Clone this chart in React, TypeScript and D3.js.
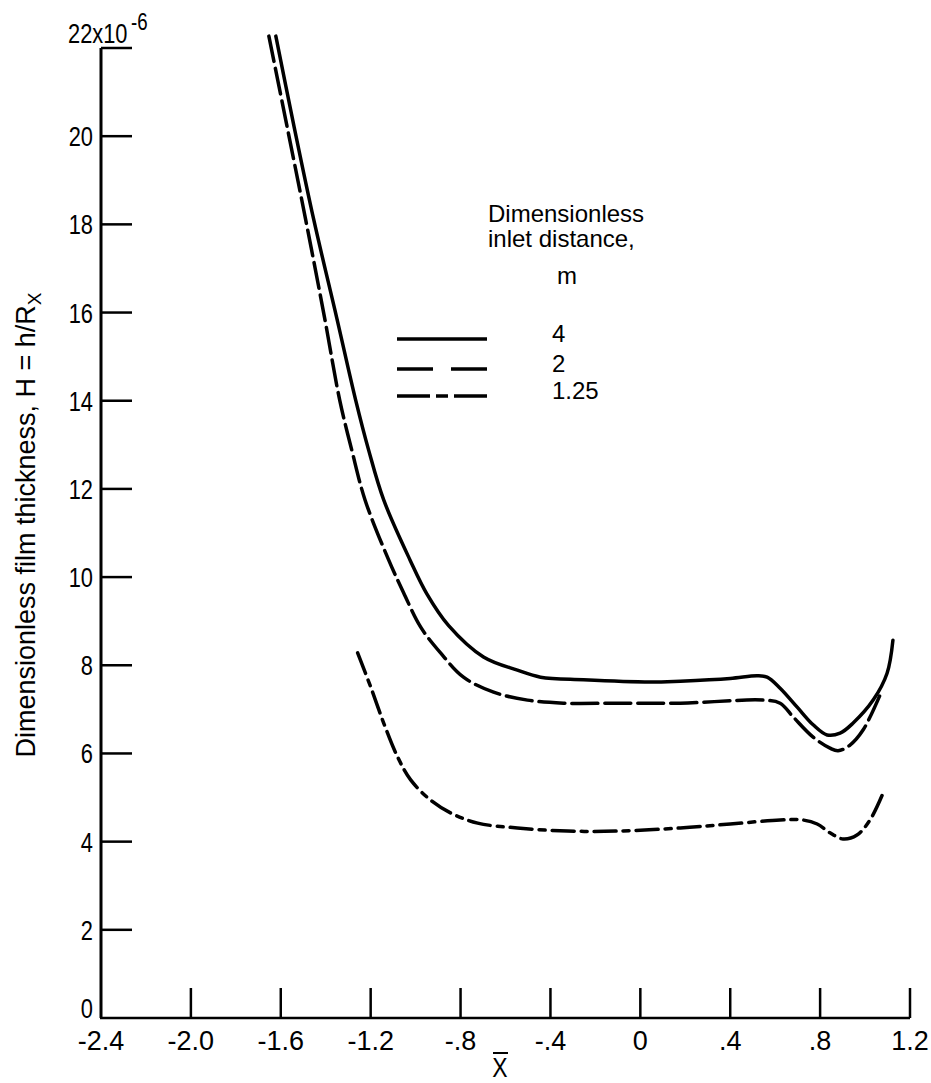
import * as d3 from "d3";

// m = 4 (solid)
const solidX = [-1.622, -1.547, -1.453, -1.351, -1.267, -1.209, -1.142, -1.025, -0.95, -0.853, -0.698, -0.547, -0.444, -0.253, 0.044, 0.178, 0.4, 0.52, 0.564, 0.622, 0.698, 0.769, 0.831, 0.889, 0.947, 1.036, 1.098, 1.124];
const solidY = [22.27, 20.37, 18.1, 15.88, 14.02, 12.88, 11.75, 10.39, 9.62, 8.9, 8.19, 7.89, 7.73, 7.67, 7.62, 7.64, 7.7, 7.76, 7.73, 7.48, 7.05, 6.65, 6.42, 6.46, 6.69, 7.21, 7.82, 8.57];

// m = 2 (dashed)
const dashX = [-1.653, -1.578, -1.489, -1.405, -1.338, -1.284, -1.225, -1.12, -1.053, -0.978, -0.889, -0.787, -0.653, -0.502, -0.342, -0.102, 0.178, 0.547, 0.622, 0.68, 0.769, 0.844, 0.88, 0.933, 0.991, 1.067];
const dashY = [22.27, 20.37, 18.1, 15.88, 14.02, 12.88, 11.75, 10.39, 9.64, 8.87, 8.28, 7.73, 7.39, 7.21, 7.14, 7.14, 7.14, 7.21, 7.14, 6.83, 6.37, 6.12, 6.06, 6.19, 6.53, 7.33];

// m = 1.25 (dash-dot)
const dotX = [-1.258, -1.2, -1.142, -1.08, -1.022, -0.933, -0.844, -0.724, -0.547, -0.324, -0.102, 0.178, 0.4, 0.622, 0.724, 0.787, 0.844, 0.902, 0.964, 1.022, 1.08];
const dotY = [8.28, 7.51, 6.69, 5.92, 5.4, 4.94, 4.65, 4.42, 4.31, 4.24, 4.24, 4.31, 4.4, 4.49, 4.49, 4.4, 4.2, 4.06, 4.15, 4.49, 5.1];

const xTicks = [-2.0, -1.6, -1.2, -0.8, -0.4, 0, 0.4, 0.8, 1.2];
const xLabelValues = [-2.4, -2.0, -1.6, -1.2, -0.8, -0.4, 0, 0.4, 0.8, 1.2];
const xTickLabels = ["-2.4", "-2.0", "-1.6", "-1.2", "-.8", "-.4", "0", ".4", ".8", "1.2"];
const yTicks = [2, 4, 6, 8, 10, 12, 14, 16, 18, 20, 22];
const yTickLabels = ["0", "2", "4", "6", "8", "10", "12", "14", "16", "18", "20"];

const legendTitle = ["Dimensionless", "inlet distance,", "m"];
const legendLabels = ["4", "2", "1.25"];

const font = "'Liberation Sans', Arial, sans-serif";

// squeezed text, the scan uses a condensed typewriter face
function CText(props: any) {
  const sx = props.sx || 0.78;
  return (
    <text transform={`translate(${props.x},${props.y}) scale(${sx},1)`} textAnchor={props.anchor || "start"}
      fontFamily={font} fontSize={props.size} fill="#000">{props.children}</text>
  );
}

export default function App() {
  const x = d3.scaleLinear().domain([-2.4, 1.2]).range([101, 910]);
  const y = d3.scaleLinear().domain([0, 22]).range([1018, 48]);

  const line = d3.line<[number, number]>()
    .x((d) => x(d[0]))
    .y((d) => y(d[1]))
    .curve(d3.curveCatmullRom.alpha(0.5));

  const series = [
    { xs: solidX, ys: solidY, dash: "none" },
    { xs: dashX, ys: dashY, dash: "26 7" },
    { xs: dotX, ys: dotY, dash: "22 7 6 7" },
  ];

  const legendDash = ["none", "36 18", "33 6 12 6"];
  const legendY = [339, 369, 396];

  return (
    <svg width={931} height={1083} style={{ position: "absolute", left: 0, top: 0, background: "#fff" }}>
      {/* axes */}
      <line x1={x(-2.4)} y1={y(22)} x2={x(-2.4)} y2={y(0)} stroke="#000" strokeWidth={3} />
      <line x1={x(-2.4) - 1} y1={y(0)} x2={x(1.2)} y2={y(0)} stroke="#000" strokeWidth={2.5} />
      {yTicks.map((t) => (
        <line key={t} x1={x(-2.4)} x2={x(-2.4) + 31} y1={y(t)} y2={y(t)} stroke="#000" strokeWidth={2.5} />
      ))}
      {xTicks.map((t) => (
        <line key={t} x1={x(t)} x2={x(t)} y1={y(0)} y2={y(0) - 30} stroke="#000" strokeWidth={2.5} />
      ))}

      {/* y tick labels */}
      {yTickLabels.map((lab, i) => (
        <CText key={lab} x={93} y={i === 0 ? y(0) : y(i * 2) + 10} anchor="end" size={28}>{lab}</CText>
      ))}
      <CText x={68} y={43} size={28}>22x10</CText>
      <CText x={131} y={30} size={24}>-6</CText>

      {/* x tick labels */}
      {xTickLabels.map((lab, i) => (
        <text key={lab} x={x(xLabelValues[i])} y={1050} textAnchor="middle"
          fontFamily={font} fontSize={27} fill="#000">{lab}</text>
      ))}
      <CText x={500} y={1077} anchor="middle" size={27} sx={0.85}>X</CText>
      <line x1={493} x2={508} y1={1053} y2={1053} stroke="#000" strokeWidth={2} />

      {/* y axis title */}
      <text transform="translate(35,525) rotate(-90)" textAnchor="middle" fontFamily={font} fontSize={27} fill="#000">
        Dimensionless film thickness, H = h/R<tspan fontSize={19} dy={6}>X</tspan>
      </text>

      {/* curves */}
      {series.map((s, i) => (
        <path key={i} d={line(s.xs.map((v, j) => [v, s.ys[j]] as [number, number])) || ""}
          fill="none" stroke="#000" strokeWidth={3.5} strokeDasharray={s.dash} strokeLinecap="round" />
      ))}

      {/* legend */}
      <text x={488} y={222} fontFamily={font} fontSize={24} fill="#000">{legendTitle[0]}</text>
      <text x={488} y={247} fontFamily={font} fontSize={24} fill="#000">{legendTitle[1]}</text>
      <text x={567} y={284} textAnchor="middle" fontFamily={font} fontSize={24} fill="#000">{legendTitle[2]}</text>
      {legendLabels.map((lab, i) => (
        <g key={lab}>
          <line x1={397} x2={487} y1={legendY[i]} y2={legendY[i]} stroke="#000" strokeWidth={3.5} strokeDasharray={legendDash[i]} />
          <text x={552} y={legendY[i] + 3} fontFamily={font} fontSize={24} fill="#000">{lab}</text>
        </g>
      ))}
    </svg>
  );
}
